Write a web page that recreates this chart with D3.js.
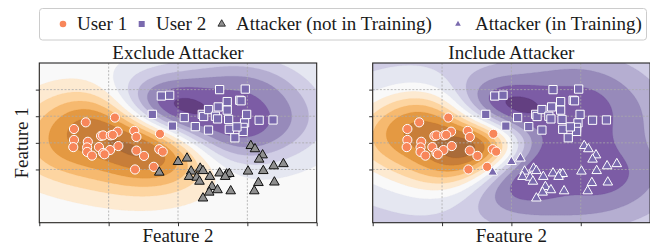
<!DOCTYPE html>
<html>
<head>
<meta charset="utf-8">
<script src="https://cdn.jsdelivr.net/npm/d3@7"></script>
<style>
  body { margin: 0; background: #fff; }
</style>
</head>
<body>
<svg id="chart"></svg>
<script>
// points, in feature units
let user1 = [
  [-0.91, 0.95], [-1.33, 0.77], [-1.50, 0.52], [-0.87, 0.42], [-1.11, 0.26], [-1.08, 0.28],
  [-0.97, 0.28], [-0.94, 0.30], [-0.63, 0.45], [-0.60, 0.22], [-0.26, 0.34], [-1.50, 0.11],
  [-1.51, -0.16], [-1.30, 0.04], [-1.31, -0.17], [-1.14, -0.16], [-0.86, -0.12], [-0.98, -0.27],
  [-1.08, -0.38], [-1.06, -0.43], [-1.31, -0.34], [-1.24, -0.48], [-0.60, -0.29], [-0.49, -0.49],
  [-0.27, -0.24], [-0.22, -0.33], [-0.62, -1.00], [-0.35, -0.90]
]
let user2 = [
  [-0.24, 1.76], [-0.12, 1.79], [0.60, 2.00], [0.97, 2.02], [-0.37, 1.07], [-0.08, 0.63],
  [0.09, 0.95], [0.25, 0.61], [0.35, 1.07], [0.37, 0.99], [0.44, 1.25], [0.44, 0.48],
  [0.54, 1.00], [0.57, 0.90], [0.58, 1.35], [0.71, 1.55], [0.71, 1.23], [0.73, 0.88],
  [0.74, 0.51], [0.82, 0.19], [0.89, 1.60], [0.91, 1.58], [0.99, 1.07], [0.96, 0.75],
  [0.94, 0.58], [0.94, 0.43], [0.85, 0.60], [1.17, 0.85], [1.37, 0.86]
]
let attackers = [
  [-0.27, -1.11], [0.00, -0.71], [0.13, -0.58], [0.19, -1.07], [0.16, -1.27], [0.27, -1.30],
  [0.31, -1.45], [0.32, -0.96], [0.36, -1.05], [0.46, -1.27], [0.60, -1.14], [0.70, -1.18],
  [0.74, -1.16], [0.68, -1.27], [0.49, -1.65], [0.45, -1.86], [0.57, -1.77], [0.36, -2.08],
  [0.76, -1.81], [1.05, -0.11], [1.11, -0.23], [1.22, -0.46], [1.17, -0.62], [1.38, -0.87],
  [1.52, -0.79], [1.01, -1.07], [1.23, -1.05], [1.16, -1.50], [1.39, -1.48], [1.10, -1.81]
]

let xTicks = [-2, -1, 0, 1, 2]
let yTicks = [-1, 0, 1, 2]
let panelTitles = ["Exclude Attacker", "Include Attacker"]
let legendLabels = ["User 1", "User 2", "Attacker (not in Training)", "Attacker (in Training)"]
let puOrStops = ["#7f3b08", "#b35806", "#e08214", "#fdb863", "#fee0b6", "#f7f7f7",
                 "#d8daeb", "#b2abd2", "#8073ac", "#542788", "#2d004b"]

let width = 650
let height = 248
let panelW = 277.4
let panelH = 159.7
let panelTop = 63
let panelLefts = [39.3, 372.7]
let fontFamily = '"Liberation Serif", Tinos, "Times New Roman", serif'

let orange = "#f8865a"
let purple = "#7a6aae"
let gray = "#8f8f8f"
let lengthX = 0.62
let lengthY = 0.88
let noise = 0.3
let fillAlpha = 0.8

let svg = d3.select('#chart').attr('width', width).attr('height', height)
// linear through the stops, like matplotlib's PuOr
let cmap = d3.piecewise(d3.interpolateRgb, puOrStops)

let solve = (A, b) => {
  let n = b.length;
  let M = A.map((row, i) => row.concat([b[i]]));
  for (let c = 0; c < n; c++) {
    let p = c;
    for (let r = c + 1; r < n; r++) { if (Math.abs(M[r][c]) > Math.abs(M[p][c])) p = r; }
    let tmp = M[c]; M[c] = M[p]; M[p] = tmp;
    for (let r = c + 1; r < n; r++) {
      let f = M[r][c] / M[c][c];
      for (let k = c; k <= n; k++) M[r][k] -= f * M[c][k];
    }
  }
  let x = new Array(n).fill(0);
  for (let r = n - 1; r >= 0; r--) {
    let s = M[r][n];
    for (let k = r + 1; k < n; k++) s -= M[r][k] * x[k];
    x[r] = s / M[r][r];
  }
  return x;
}

// GP mean of +1 / -1 labels
let fitField = (pos, neg) => {
  let X = pos.concat(neg)
  let y = pos.map(() => 1).concat(neg.map(() => -1))
  let m = d3.mean(y)
  let kern = (a, b) => {
    let ux = (a[0] - b[0]) / lengthX
    let uy = (a[1] - b[1]) / lengthY
    return Math.exp(-0.5 * (ux * ux + uy * uy))
  }
  let A = X.map((a, i) => X.map((b, j) => kern(a, b) + (i === j ? noise : 0)))
  let w = solve(A, y.map(v => v - m))
  return p => m + d3.sum(X, (xi, i) => kern(p, xi) * w[i])
}

let addText = (sel, str, size) => sel.append('text')
  .attr('font-family', fontFamily).attr('font-size', size).attr('fill', '#1a1a1a')
  .text(str)

let drawPanel = (idx, pos, attackerInTraining) => {
  let left = panelLefts[idx]
  let xs = d3.scaleLinear().domain([-2, 2]).range([left, left + panelW])
  let ys = d3.scaleLinear().domain([-3, 3]).range([panelTop + panelH, panelTop])

  let g = svg.append('g')
  let clipId = 'clip' + idx
  svg.append('clipPath').attr('id', clipId)
     .append('rect')
     .attr('x', left).attr('y', panelTop)
     .attr('width', panelW).attr('height', panelH)

  let field = fitField(pos, user1)
  let nx = 160, ny = 92
  let dx = 4 / nx, dy = 6 / ny
  let values = new Array(nx * ny)
  for (let j = 0; j < ny; j++) {
    for (let i = 0; i < nx; i++) {
      values[j * nx + i] = field([-2 + (i + 0.5) * dx, 3 - (j + 0.5) * dy])
    }
  }
  let [fmin, fmax] = d3.extent(values)
  let step = d3.tickStep(fmin, fmax, 12)
  // one band centred on zero stays white
  let levels = d3.range((Math.floor(fmin / step - 0.5) + 0.5) * step, fmax + step, step)
  let vmax = d3.max(levels, Math.abs)

  let proj = d3.geoTransform({
    point: function (cx, cy) { this.stream.point(xs(-2 + cx * dx), ys(3 - cy * dy)) }
  })
  let path = d3.geoPath(proj)
  let contours = d3.contours().size([nx, ny]).thresholds(levels.slice(0, -1))(values)

  let cg = g.append('g').attr('clip-path', `url(#${clipId})`)
  cg.append('rect')
    .attr('x', left).attr('y', panelTop)
    .attr('width', panelW).attr('height', panelH)
    .attr('fill', '#f7f7f7')
  cg.selectAll('path.band')
    .data(contours)
    .enter()
    .append('path')
    .attr('class', 'band')
    .attr('d', path)
    .attr('fill-rule', 'evenodd')
    .attr('fill', d => {
      let mid = d.value + step / 2
      return d3.interpolateRgb('#ffffff', cmap(0.5 + 0.5 * mid / vmax))(fillAlpha)
    })
    .attr('stroke', d => cmap(0.5 + 0.5 * d.value / vmax))
    .attr('stroke-opacity', 0.3)
    .attr('stroke-width', 0.5)

  // grid
  g.selectAll('line.gx')
   .data(xTicks.slice(1, -1))
   .enter()
   .append('line')
   .attr('x1', d => xs(d)).attr('x2', d => xs(d))
   .attr('y1', panelTop).attr('y2', panelTop + panelH)
   .attr('stroke', '#aaaaaa').attr('stroke-width', 0.8).attr('stroke-dasharray', '2,1.6')
  g.selectAll('line.gy')
   .data(yTicks)
   .enter()
   .append('line')
   .attr('y1', d => ys(d)).attr('y2', d => ys(d))
   .attr('x1', left).attr('x2', left + panelW)
   .attr('stroke', '#aaaaaa').attr('stroke-width', 0.8).attr('stroke-dasharray', '2,1.6')

  let pg = g.append('g').attr('clip-path', `url(#${clipId})`)
  pg.selectAll('path.u1')
    .data(user1)
    .enter()
    .append('path')
    .attr('d', d3.symbol(d3.symbolCircle, 66))
    .attr('transform', d => `translate(${xs(d[0])},${ys(d[1])})`)
    .attr('fill', orange).attr('stroke', '#fff').attr('stroke-width', 1)
  pg.selectAll('path.u2')
    .data(user2)
    .enter()
    .append('path')
    .attr('d', d3.symbol(d3.symbolSquare, 68))
    .attr('transform', d => `translate(${xs(d[0])},${ys(d[1])})`)
    .attr('fill', purple).attr('stroke', '#fff').attr('stroke-width', 1)
  pg.selectAll('path.att')
    .data(attackers)
    .enter()
    .append('path')
    .attr('d', d3.symbol(d3.symbolTriangle, 40))
    .attr('transform', d => `translate(${xs(d[0])},${ys(d[1])})`)
    .attr('fill', attackerInTraining ? purple : gray)
    .attr('stroke', attackerInTraining ? '#fff' : '#111')
    .attr('stroke-width', 1)

  // axes
  svg.append('g')
     .attr('transform', `translate(0, ${panelTop + panelH})`)
     .call(d3.axisBottom(xs).tickValues(xTicks).tickFormat('').tickSize(3.5).tickSizeOuter(0))
     .call(a => a.select('.domain').remove())
     .selectAll('line').attr('stroke', '#333')
  svg.append('g')
     .attr('transform', `translate(${left}, 0)`)
     .call(d3.axisLeft(ys).tickValues(yTicks).tickFormat('').tickSize(3.5).tickSizeOuter(0))
     .call(a => a.select('.domain').remove())
     .selectAll('line').attr('stroke', '#333')
  svg.append('rect')
     .attr('x', left).attr('y', panelTop)
     .attr('width', panelW).attr('height', panelH)
     .attr('fill', 'none').attr('stroke', '#262626').attr('stroke-width', 1.1)

  addText(svg, panelTitles[idx], 19)
     .attr('x', left + panelW / 2).attr('y', 59)
     .attr('text-anchor', 'middle')
  addText(svg, 'Feature 2', 19)
     .attr('x', left + panelW / 2).attr('y', 242)
     .attr('text-anchor', 'middle')
}

drawPanel(0, user2, false)
drawPanel(1, user2.concat(attackers), true)

addText(svg, 'Feature 1', 19)
   .attr('transform', `translate(28, ${panelTop + panelH / 2}) rotate(-90)`)
   .attr('text-anchor', 'middle')

// legend
let legend = svg.append('g')
legend.append('rect')
      .attr('x', 39.5).attr('y', 8.5).attr('width', 607).attr('height', 31.5)
      .attr('rx', 3).attr('fill', '#fff').attr('fill-opacity', 0.8)
      .attr('stroke', '#cccccc').attr('stroke-width', 1)
let legendMarkers = [
  { x: 63, sym: d3.symbolCircle, size: 34, fill: orange, stroke: 'none' },
  { x: 141.7, sym: d3.symbolSquare, size: 36, fill: purple, stroke: 'none' },
  { x: 221.7, sym: d3.symbolTriangle, size: 24, fill: gray, stroke: '#111' },
  { x: 458, sym: d3.symbolTriangle, size: 14, fill: purple, stroke: 'none' }
]
let legendTextX = [77, 156, 236, 475]
legend.selectAll('path')
      .data(legendMarkers)
      .enter()
      .append('path')
      .attr('d', d => d3.symbol(d.sym, d.size)())
      .attr('transform', d => `translate(${d.x}, 24)`)
      .attr('fill', d => d.fill)
      .attr('stroke', d => d.stroke).attr('stroke-width', 0.8)
legendLabels.forEach((label, i) => {
  addText(legend, label, 19).attr('x', legendTextX[i]).attr('y', 29.5)
})
</script>
</body>
</html>
